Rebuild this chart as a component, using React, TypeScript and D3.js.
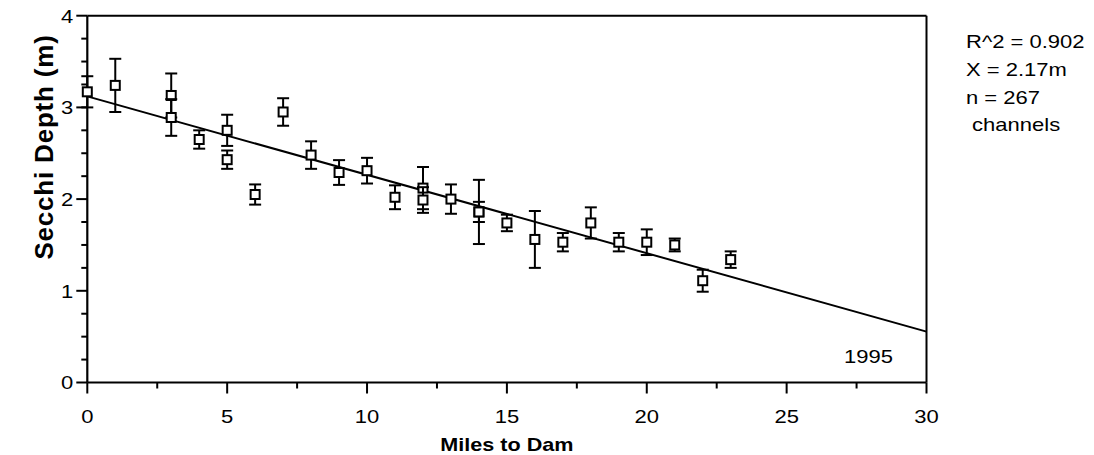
import React from "react";
import * as d3 from "d3";

// Secchi depth by distance upstream of the dam, 1995 survey
const miles = [0, 1, 3, 3, 4, 5, 5, 6, 7, 8, 9, 10, 11, 12, 12, 13, 14, 14, 15, 16, 17, 18, 19, 20, 21, 22, 23];
const depthMean = [3.17, 3.24, 3.13, 2.89, 2.65, 2.75, 2.43, 2.05, 2.95, 2.48, 2.29, 2.31, 2.02, 2.12, 1.99, 2.0, 1.86, 1.86, 1.74, 1.56, 1.53, 1.74, 1.53, 1.53, 1.5, 1.11, 1.34];
const depthErr = [0.17, 0.29, 0.24, 0.2, 0.1, 0.17, 0.1, 0.11, 0.15, 0.15, 0.135, 0.14, 0.13, 0.23, 0.14, 0.16, 0.35, 0.11, 0.09, 0.31, 0.1, 0.17, 0.1, 0.14, 0.07, 0.12, 0.09];

// Least-squares fit (intercept, slope)
const fitIntercept = 3.12;
const fitSlope = -0.0855;

const xTicks = [0, 5, 10, 15, 20, 25, 30];
const xMinorTicks = [2.5, 7.5, 12.5, 17.5, 22.5, 27.5];
const yTicks = [0, 1, 2, 3, 4];
const yMinorTicks = [0.25, 0.5, 0.75, 1.25, 1.5, 1.75, 2.25, 2.5, 2.75, 3.25, 3.5, 3.75];

const statsLines = ["R^2 = 0.902", "X = 2.17m", "n = 267", " channels"];
const yearLabel = "1995";
const xTitle = "Miles to Dam";
const yTitle = "Secchi Depth (m)";

const W = 1094;
const H = 455;
const font = "'Liberation Sans', Arial, sans-serif";
const FS = 18.8;
const SX = 1.17;

// Text drawn slightly wide, like the old plotting package's output
function WideText(props: {
  x: number;
  y: number;
  anchor?: "start" | "middle" | "end";
  size?: number;
  sx?: number;
  bold?: boolean;
  children: React.ReactNode;
}) {
  const { x, y, anchor = "start", size = FS, sx = SX, bold = false, children } = props;
  return (
    <text
      transform={`translate(${x},${y}) scale(${sx},1)`}
      textAnchor={anchor}
      fontSize={size}
      fontWeight={bold ? "bold" : "normal"}
      style={{ whiteSpace: "pre" }}
    >
      {children}
    </text>
  );
}

export default function App() {
  const x = d3.scaleLinear().domain([0, 30]).range([87.3, 926.5]);
  const y = d3.scaleLinear().domain([0, 4]).range([382.5, 15.7]);

  const fitLine = d3
    .line<number>()
    .x((d) => x(d))
    .y((d) => y(fitIntercept + fitSlope * d));

  const points = miles.map((m, i) => ({ m, v: depthMean[i], e: depthErr[i] }));
  const sq = 9;
  const cap = 6;

  return (
    <svg
      width={W}
      height={H}
      style={{ position: "absolute", left: 0, top: 0, background: "#fff" }}
      fontFamily={font}
    >
      <rect width={W} height={H} fill="#fff" />

      {/* frame */}
      <line x1={x(0)} x2={x(30)} y1={y(4)} y2={y(4)} stroke="#000" strokeWidth={2} />
      <line x1={x(30)} x2={x(30)} y1={y(4)} y2={y(0)} stroke="#000" strokeWidth={2} />
      <line x1={x(0)} x2={x(30)} y1={y(0)} y2={y(0)} stroke="#000" strokeWidth={2.2} />
      <line x1={x(0)} x2={x(0)} y1={y(4)} y2={y(0)} stroke="#000" strokeWidth={2.2} />

      {/* y ticks */}
      {yTicks.map((t) => (
        <g key={"yt" + t}>
          <line x1={x(0) - 11} x2={x(0)} y1={y(t)} y2={y(t)} stroke="#000" strokeWidth={2} />
          <WideText x={x(0) - 14} y={y(t) + 6.8} anchor="end">
            {t}
          </WideText>
        </g>
      ))}
      {yMinorTicks.map((t) => (
        <line key={"ym" + t} x1={x(0) - 6} x2={x(0)} y1={y(t)} y2={y(t)} stroke="#000" strokeWidth={2} />
      ))}

      {/* x ticks */}
      {xTicks.map((t) => (
        <g key={"xt" + t}>
          <line x1={x(t)} x2={x(t)} y1={y(0)} y2={y(0) + 11} stroke="#000" strokeWidth={2} />
          <WideText x={x(t)} y={423} anchor="middle">
            {t}
          </WideText>
        </g>
      ))}
      {xMinorTicks.map((t) => (
        <line key={"xm" + t} x1={x(t)} x2={x(t)} y1={y(0)} y2={y(0) + 6} stroke="#000" strokeWidth={2} />
      ))}

      {/* regression line */}
      <path d={fitLine([0, 30]) || ""} fill="none" stroke="#000" strokeWidth={2} />

      {/* error bars and markers */}
      {points.map((p, i) => (
        <g key={"p" + i} stroke="#000" strokeWidth={2} fill="none">
          <line x1={x(p.m)} x2={x(p.m)} y1={y(p.v + p.e)} y2={y(p.v - p.e)} />
          <line x1={x(p.m) - cap} x2={x(p.m) + cap} y1={y(p.v + p.e)} y2={y(p.v + p.e)} />
          <line x1={x(p.m) - cap} x2={x(p.m) + cap} y1={y(p.v - p.e)} y2={y(p.v - p.e)} />
          <rect x={x(p.m) - sq / 2} y={y(p.v) - sq / 2} width={sq} height={sq} fill="#fff" />
        </g>
      ))}

      {/* fit statistics */}
      {statsLines.map((s, i) => (
        <WideText key={"s" + i} x={966} y={48.3 + i * 27.6}>
          {s}
        </WideText>
      ))}

      <WideText x={893} y={363} anchor="end">
        {yearLabel}
      </WideText>

      <WideText x={x(15)} y={451} anchor="middle" size={18} sx={1.2} bold>
        {xTitle}
      </WideText>

      <text
        transform={`translate(53, 147) rotate(-90)`}
        textAnchor="middle"
        fontSize={26}
        fontWeight="bold"
        letterSpacing={0.8}
      >
        {yTitle}
      </text>
    </svg>
  );
}
